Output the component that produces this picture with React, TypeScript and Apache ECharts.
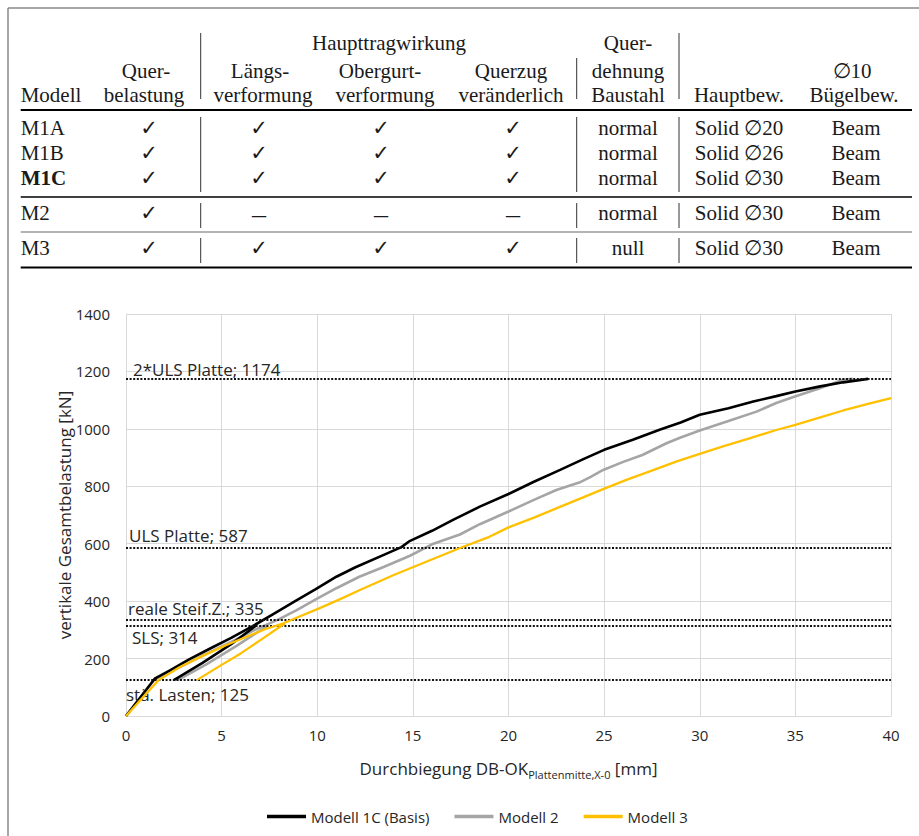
import React, { useEffect, useRef } from 'react';
import * as echarts from 'echarts';

// ---------- table content ----------
const tableModels = ['M1A', 'M1B', 'M1C', 'M2', 'M3'];
const colQuerbelastung = ['✓', '✓', '✓', '✓', '✓'];
const colLaengs = ['✓', '✓', '✓', '–', '✓'];
const colObergurt = ['✓', '✓', '✓', '–', '✓'];
const colQuerzug = ['✓', '✓', '✓', '–', '✓'];
const colQuerdehnung = ['normal', 'normal', 'normal', 'normal', 'null'];
const colHauptbew = ['Solid ∅20', 'Solid ∅26', 'Solid ∅30', 'Solid ∅30', 'Solid ∅30'];
const colBuegelbew = ['Beam', 'Beam', 'Beam', 'Beam', 'Beam'];

// ---------- chart data ----------
const seriesNames = ['Modell 1C (Basis)', 'Modell 2', 'Modell 3'];
const seriesColors = ['#000000', '#a5a5a5', '#ffc000'];

const modell1C: [number, number][] = [
  [0, 0], [1.5, 130], [2.3, 159], [3.3, 197], [4.4, 235], [5.5, 272], [6.6, 312],
  [7.7, 355], [8.8, 398], [9.9, 441], [11.0, 485], [12.0, 518], [13.3, 556],
  [14.4, 588], [14.8, 608], [16.0, 645], [17.1, 683], [18.5, 729], [20.0, 773],
  [21.3, 815], [22.7, 857], [24.0, 897], [25.0, 927], [26.5, 962], [27.9, 997],
  [29.0, 1022], [30.0, 1049], [31.5, 1072], [32.8, 1095], [34.0, 1114], [35.0, 1130],
  [36.3, 1148], [37.5, 1162], [38.8, 1174],
];
const modell1CReload: [number, number][] = [[2.5, 125], [4.0, 185], [5.5, 250], [6.8, 315]];

const modell2: [number, number][] = [
  [0, 0], [1.5, 128], [2.5, 160], [4.0, 210], [5.5, 258], [6.9, 305], [7.9, 334],
  [8.9, 368], [9.9, 405], [11.0, 445], [12.2, 485], [13.5, 520], [14.85, 558],
  [16.0, 598], [17.46, 632], [18.5, 668], [20.0, 712], [21.3, 752], [22.5, 787],
  [23.7, 813], [24.3, 833], [24.95, 857], [26.0, 885], [27.0, 909], [28.26, 950],
  [29.0, 970], [30.0, 994], [31.5, 1027], [32.97, 1060], [34.0, 1090], [34.9, 1111],
  [36.2, 1140], [37.5, 1171], [38.0, 1174],
];
const modell2Reload: [number, number][] = [[2.7, 125], [4.2, 180], [5.8, 245], [7.4, 315]];

const modell3: [number, number][] = [
  [0, 0], [1.7, 125], [2.8, 170], [3.9, 206], [5.1, 243], [6.3, 276], [7.3, 303],
  [8.2, 322], [9.2, 350], [10.1, 375], [11.2, 407], [12.2, 438], [14.0, 491],
  [15.7, 537], [17.5, 586], [19.0, 624], [20.0, 657], [21.3, 690], [22.5, 723],
  [24.95, 790], [26.2, 823], [27.6, 857], [28.8, 887], [30.0, 913], [31.3, 941],
  [32.6, 967], [34.0, 996], [35.0, 1014], [36.3, 1040], [37.5, 1064], [38.8, 1087],
  [40.0, 1107],
];
const modell3Reload: [number, number][] = [[3.7, 125], [5.0, 178], [6.0, 218], [7.2, 272], [8.3, 322]];

const refLevels = [1174, 587, 335, 314, 125];
const refLabels = ['2*ULS Platte; 1174', 'ULS Platte; 587', 'reale Steif.Z.; 335', 'SLS; 314', 'stä. Lasten; 125'];

const xAxisTitle = 'Durchbiegung DB-OK';
const xAxisSub = 'Plattenmitte,X-0';
const xAxisUnit = ' [mm]';
const yAxisTitle = 'vertikale Gesamtbelastung [kN]';

// ---------- layout helpers (positions only) ----------
const SERIF = '"Liberation Serif", "Times New Roman", serif';
const SANS = '"Open Sans", "Noto Sans", sans-serif';
const TXT = '#1a1a1a';

function buildTable(): any[] {
  const els: any[] = [];
  const txt = (text: string, x: number, y: number, opts: any = {}) => {
    els.push({
      type: 'text',
      x,
      y,
      silent: true,
      style: {
        text,
        fill: opts.fill || TXT,
        fontFamily: opts.fontFamily || SERIF,
        fontSize: opts.fontSize || 21,
        fontWeight: opts.fontWeight || 'normal',
        align: opts.align || 'center',
        verticalAlign: 'middle',
      },
    });
  };
  const line = (x1: number, y1: number, x2: number, y2: number, stroke: string, lineWidth: number) => {
    els.push({ type: 'line', silent: true, shape: { x1, y1, x2, y2 }, style: { stroke, lineWidth } });
  };

  // outer frame
  line(8, 8, 919, 8, '#8a8a8a', 1.5);
  line(8, 8, 8, 836, '#8a8a8a', 1.5);

  // header
  const h1 = 42.5, h2 = 70.5, h3 = 95;
  txt('Haupttragwirkung', 389, h1);
  txt('Quer-', 628, h1);
  txt('Quer-', 146, h2);
  txt('Längs-', 260, h2);
  txt('Obergurt-', 380, h2);
  txt('Querzug', 511, h2);
  txt('dehnung', 628, h2);
  txt('∅10', 852, h2);
  txt('Modell', 20.7, h3, { align: 'left' });
  txt('belastung', 144, h3);
  txt('verformung', 263, h3);
  txt('verformung', 385, h3);
  txt('veränderlich', 511, h3);
  txt('Baustahl', 628, h3);
  txt('Hauptbew.', 739, h3);
  txt('Bügelbew.', 854, h3);

  // horizontal rules
  line(20.7, 110, 912, 110, '#000', 2.2);
  line(20.7, 197, 912, 197, '#000', 1.4);
  line(20.7, 232, 912, 232, '#9a9a9a', 1.6);
  line(20.7, 267.5, 912, 267.5, '#000', 1.8);

  // vertical rules
  const vStroke = '#333';
  line(200.7, 33, 200.7, 99, vStroke, 1);
  line(576.7, 58, 576.7, 99, vStroke, 1);
  line(679, 33, 679, 99, vStroke, 1);
  const blocks = [[117, 192], [203, 228], [238, 263]];
  blocks.forEach(([a, b]) => {
    line(200.7, a, 200.7, b, vStroke, 1);
    line(576.7, a, 576.7, b, vStroke, 1);
    line(679, a, 679, b, vStroke, 1);
  });

  // body
  const rowY = [128.3, 152.5, 177.5, 213.3, 248.3];
  const sym = (v: string, x: number, y: number) => {
    if (v === '✓') txt('✓', x, y, { fontFamily: '"DejaVu Sans", sans-serif', fontSize: 21, fontWeight: 'bold' });
    else txt('–', x, y, { fontSize: 28 });
  };
  tableModels.forEach((m, i) => {
    const y = rowY[i];
    txt(m, 20.7, y, { align: 'left', fontWeight: m === 'M1C' ? 'bold' : 'normal' });
    sym(colQuerbelastung[i], 149, y);
    sym(colLaengs[i], 259, y);
    sym(colObergurt[i], 381, y);
    sym(colQuerzug[i], 513, y);
    txt(colQuerdehnung[i], 628, y);
    txt(colHauptbew[i], 739, y);
    txt(colBuegelbew[i], 856, y);
  });
  return els;
}

const labelTweaks = [
  { position: 'insideStartTop', distance: [7, 1] },
  { position: 'insideStartTop', distance: [3, 3] },
  { position: 'insideStartTop', distance: [2, 3] },
  { position: 'insideStartBottom', distance: [6, 3] },
  { position: 'insideStartBottom', distance: [0, 6] },
];

export default function App() {
  const ref = useRef<HTMLDivElement>(null);
  useEffect(() => {
    document.body.style.margin = '0';
    if (!ref.current) return;
    const chart = echarts.init(ref.current, null, { renderer: 'svg' });
    const gridColor = '#d9d9d9';
    const lineSeries = (name: string, data: [number, number][], color: string, width: number, z: number) => ({
      name,
      type: 'line',
      data,
      symbol: 'none',
      showSymbol: false,
      smooth: false,
      z,
      lineStyle: { color, width },
      itemStyle: { color },
      emphasis: { disabled: true },
    });
    const option: any = {
      animation: false,
      backgroundColor: '#ffffff',
      textStyle: { fontFamily: SANS },
      graphic: buildTable(),
      grid: { left: 126, top: 314, width: 765, height: 402 },
      legend: {
        data: seriesNames.map((n) => ({ name: n, icon: 'rect' })),
        left: 262,
        top: 804,
        itemWidth: 39,
        itemHeight: 3.5,
        itemGap: 25,
        textStyle: { fontFamily: SANS, fontSize: 15, color: '#262626' },
      },
      xAxis: {
        type: 'value',
        min: 0,
        max: 40,
        interval: 5,
        axisLine: { show: true, lineStyle: { color: gridColor } },
        axisTick: { show: false },
        splitLine: { show: true, lineStyle: { color: gridColor, width: 1 } },
        axisLabel: { fontFamily: SANS, fontSize: 15, color: '#262626', margin: 11, formatter: (v: number) => String(v) },
        name: `{a|${xAxisTitle}}{b|${xAxisSub}}{a|${xAxisUnit}}`,
        nameLocation: 'middle',
        nameGap: 44,
        nameMoveOverlap: false,
        nameTextStyle: {
          rich: {
            a: { fontFamily: SANS, fontSize: 17, color: '#262626', lineHeight: 20, verticalAlign: 'top' },
            b: { fontFamily: SANS, fontSize: 11, color: '#262626', lineHeight: 13, verticalAlign: 'bottom' },
          },
        },
      },
      yAxis: {
        type: 'value',
        min: 0,
        max: 1400,
        interval: 200,
        axisLine: { show: true, lineStyle: { color: gridColor } },
        axisTick: { show: false },
        splitLine: { show: true, lineStyle: { color: gridColor, width: 1 } },
        axisLabel: { fontFamily: SANS, fontSize: 15, color: '#262626', margin: 16, formatter: (v: number) => String(v) },
        name: yAxisTitle,
        nameLocation: 'middle',
        nameGap: 53,
        nameMoveOverlap: false,
        nameRotate: 90,
        nameTextStyle: { fontFamily: SANS, fontSize: 17, color: '#262626' },
      },
      series: [
        {
          name: 'Referenz',
          type: 'line',
          data: [],
          symbol: 'none',
          z: 1,
          markLine: {
            silent: true,
            symbol: ['none', 'none'],
            animation: false,
            lineStyle: { color: '#111', width: 2, type: [2, 1.6] },
            data: refLevels.map((v, i) => ({
              yAxis: v,
              label: {
                show: true,
                formatter: refLabels[i],
                position: labelTweaks[i].position,
                distance: labelTweaks[i].distance,
                fontFamily: SANS,
                fontSize: 17,
                color: '#262626',
              },
            })),
          },
        },
        lineSeries(seriesNames[0], modell1C, seriesColors[0], 2.6, 4),
        lineSeries(seriesNames[0], modell1CReload, seriesColors[0], 2.6, 4),
        lineSeries(seriesNames[1], modell2, seriesColors[1], 2.6, 3),
        lineSeries(seriesNames[1], modell2Reload, seriesColors[1], 2.6, 3),
        lineSeries(seriesNames[2], modell3, seriesColors[2], 2.3, 5),
        lineSeries(seriesNames[2], modell3Reload, seriesColors[2], 2.3, 5),
      ],
    };
    chart.setOption(option);
    return () => chart.dispose();
  }, []);
  return <div ref={ref} style={{ width: 919, height: 836 }} />;
}
